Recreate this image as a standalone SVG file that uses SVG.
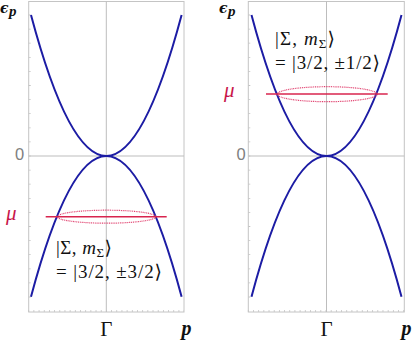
<svg xmlns="http://www.w3.org/2000/svg" width="415" height="340" viewBox="0 0 415 340">
<style>
.frame{fill:none;stroke:#c4c4c4;stroke-width:1}
.grid{stroke:#bdbdbd;stroke-width:1;fill:none}
.tickb{stroke:#c4c4c4;stroke-width:2;stroke-dasharray:0.8 4.38;fill:none}
.tickl{stroke:#c4c4c4;stroke-width:2;stroke-dasharray:0.8 13.3;fill:none}
.band{fill:none;stroke:#1c1ca4;stroke-width:2}
.mu{stroke:#d8244e;stroke-width:1.6;fill:none}
.fs{fill:none;stroke:#e0406e;stroke-width:1.2;stroke-dasharray:1 0.8}
.lab{font-family:"Liberation Serif","DejaVu Serif","DejaVu Sans",serif;font-size:19px;fill:#111}
.eps{font-family:"DejaVu Serif","Liberation Serif",serif;font-weight:bold;font-style:italic;font-size:14px;fill:#111}
.bp{font-family:"Liberation Serif","DejaVu Serif",serif;font-weight:bold;font-style:italic;fill:#111}
.gam{font-family:"Liberation Serif","DejaVu Serif",serif;font-size:21px;fill:#111}
.zero{font-family:"Liberation Sans","DejaVu Sans",sans-serif;font-size:16.5px;fill:#808080}
.mulab{font-family:"Liberation Serif","DejaVu Serif",serif;font-style:italic;font-size:21px;fill:#c8164a}
</style>
<g id="panel-left">
  <g id="left-frame">
    <rect class="frame" x="28.7" y="1.5" width="155.3" height="310.5"/>
    <line class="grid" x1="106.3" y1="1.5" x2="106.3" y2="312"/>
    <line class="grid" x1="28.7" y1="156" x2="184" y2="156"/>
    <line class="tickb" x1="28.3" y1="311" x2="184" y2="311"/>
    <line class="tickl" x1="29.7" y1="14.6" x2="29.7" y2="300"/>
  </g>
  <g id="left-bands">
    <path class="band" d="M31,15 Q106.3,297 181.6,15"/>
    <path class="band" d="M31,296.7 Q106.3,15.3 181.6,296.7"/>
  </g>
  <g id="left-fermi">
    <ellipse class="fs" cx="106.5" cy="216.7" rx="49.2" ry="6.5"/>
    <line class="mu" x1="45.7" y1="216.7" x2="166.7" y2="216.7"/>
  </g>
  <g id="left-labels">
    <text class="eps" x="0" y="13">ϵ<tspan class="bp" font-size="15" dx="0.5" dy="3">p</tspan></text>
    <text class="zero" x="15" y="159.5">0</text>
    <text class="mulab" x="6" y="219.5">μ</text>
    <text class="lab" x="56" y="253.5" textLength="56" lengthAdjust="spacing">|Σ, <tspan font-style="italic">m</tspan><tspan font-size="13" dy="3">Σ</tspan><tspan dy="-3">⟩</tspan></text>
    <text class="lab" x="56" y="277.5" textLength="106" lengthAdjust="spacing">= |3/2, ±3/2⟩</text>
    <text class="gam" x="106.3" y="335.5" text-anchor="middle">Γ</text>
    <text class="bp" x="181.5" y="334.5" font-size="20">p</text>
  </g>
</g>
<g id="panel-right">
  <g id="right-frame">
    <rect class="frame" x="248.3" y="1.5" width="156" height="310.5"/>
    <line class="grid" x1="326.5" y1="1.5" x2="326.5" y2="312"/>
    <line class="grid" x1="248.3" y1="156" x2="404.3" y2="156"/>
    <line class="tickb" x1="247.9" y1="311" x2="404.3" y2="311"/>
    <line class="tickl" x1="249.3" y1="14.6" x2="249.3" y2="300"/>
  </g>
  <g id="right-bands">
    <path class="band" d="M251.5,15 Q326.5,297 401.5,15"/>
    <path class="band" d="M251.5,296.7 Q326.5,15.3 401.5,296.7"/>
  </g>
  <g id="right-fermi">
    <ellipse class="fs" cx="327.2" cy="94.2" rx="50" ry="7.5"/>
    <line class="mu" x1="266" y1="94" x2="387.7" y2="94"/>
  </g>
  <g id="right-labels">
    <text class="eps" x="219" y="13">ϵ<tspan class="bp" font-size="15" dx="0.5" dy="3">p</tspan></text>
    <text class="zero" x="236.5" y="159.5">0</text>
    <text class="mulab" x="224" y="96.5">μ</text>
    <text class="lab" x="275" y="45" textLength="60" lengthAdjust="spacing">|Σ, <tspan font-style="italic">m</tspan><tspan font-size="13" dy="3">Σ</tspan><tspan dy="-3">⟩</tspan></text>
    <text class="lab" x="275" y="69" textLength="105" lengthAdjust="spacing">= |3/2, ±1/2⟩</text>
    <text class="gam" x="326.5" y="335.5" text-anchor="middle">Γ</text>
    <text class="bp" x="401.5" y="334.5" font-size="20">p</text>
  </g>
</g>
</svg>
